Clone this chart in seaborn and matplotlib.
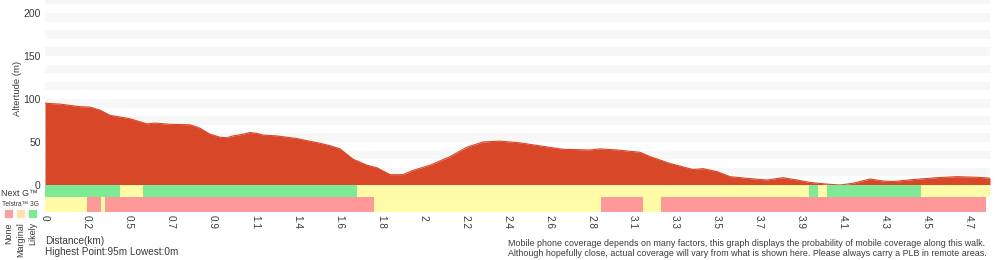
import numpy as np
import pandas as pd
import matplotlib
matplotlib.use("Agg")
import matplotlib.pyplot as plt
import seaborn as sns

# ---------------- data ----------------
tick_labels = ["0", "0.2", "0.5", "0.7", "0.9", "1.1", "1.4", "1.6", "1.8", "2",
               "2.2", "2.4", "2.6", "2.8", "3.1", "3.3", "3.5", "3.7", "3.9",
               "4.1", "4.3", "4.5", "4.7"]

# position along the walk (in tick-index units) and altitude (m)
profile_pos = [0.0, 0.357, 0.833, 1.071, 1.31, 1.548, 2.024, 2.429, 2.619, 2.976,
               3.452, 3.69, 3.929, 4.167, 4.333, 4.476, 4.714, 4.881, 5.048, 5.19,
               5.524, 6.0, 6.238, 6.548, 6.786, 7.024, 7.333, 7.667, 7.905, 8.214,
               8.524, 8.762, 9.167, 9.643, 10.048, 10.429, 10.833, 11.31, 11.714,
               12.333, 12.976, 13.214, 13.619, 14.167, 14.405, 14.643, 14.881,
               15.429, 15.667, 16.0, 16.31, 16.786, 17.19, 17.571, 17.905, 18.214,
               18.619, 18.929, 19.238, 19.643, 19.952, 20.19, 20.595, 21.238,
               21.714, 22.19, 22.5]
profile_alt = [95, 94, 91, 90.5, 87, 81, 77, 71, 72, 70.5,
               70, 66, 59, 55.5, 55, 57, 59, 61, 60, 58,
               57, 54, 51.5, 48.5, 45.7, 42, 30, 23, 20, 12,
               12, 17, 23, 33, 44, 50, 51, 49, 46,
               41.5, 40.7, 42, 40.7, 38, 33, 29, 25,
               18, 19, 15.5, 9.7, 7.4, 5.8, 8.5, 5.8, 3,
               1, 0, 2, 7, 4.6, 4, 6, 8.5,
               9.7, 9, 8]

nextg_edges = [0, 1.786, 2.333, 7.429, 18.18, 18.405, 18.619, 20.857, 22.5]
nextg_levels = ["Likely", "Marginal", "Likely", "Marginal", "Likely", "Marginal", "Likely", "Marginal"]
g3_edges = [0, 1.0, 1.333, 1.429, 7.833, 13.238, 14.238, 14.667, 22.405]
g3_levels = ["Marginal", "None", "Marginal", "None", "Marginal", "None", "Marginal", "None"]

legend_levels = ["None", "Marginal", "Likely"]

# ---------------- style ----------------
sns.set_theme(style="white")
plt.rcParams["font.family"] = ["Liberation Sans", "DejaVu Sans"]

RED = "#d94729"
COV = {"None": "#ff9999", "Marginal": "#fffca8", "Likely": "#7eea96"}
LEG = {"None": "#ff9e9e", "Marginal": "#ffe3a8", "Likely": "#7eea96"}
TXT = "#3a3a3a"

W, H = 1000, 260
fig = plt.figure(figsize=(10, 2.6), dpi=100)

def fx(px):
    return px / W

def fy(py):
    return 1 - py / H

# main elevation axes
ax = fig.add_axes([fx(45), fy(185), fx(990) - fx(45), fy(0) - fy(185)])
ax.set_xlim(0, 22.5)
ax.set_ylim(0, 215)
for lo in range(10, 220, 20):
    ax.axhspan(lo, lo + 10, color="#f7f7f7", lw=0, zorder=0)

df = pd.DataFrame({"pos": profile_pos, "alt": profile_alt})
ax.fill_between(df["pos"], df["alt"], 0, color=RED, lw=0, zorder=2)
sns.lineplot(data=df, x="pos", y="alt", ax=ax, color=RED, lw=0.8, zorder=3)
ax.set_xlabel("")
ax.set_ylabel("")
ax.set_xticks([])
ax.set_yticks([0, 50, 100, 150, 200])
ax.set_yticklabels(["0", "50", "100", "150", "200"])
ax.tick_params(axis="y", length=0, pad=3, labelsize=7.5, labelcolor=TXT)
for s in ax.spines.values():
    s.set_visible(False)

# coverage axes
axc = fig.add_axes([fx(45), fy(212), fx(990) - fx(45), fy(185) - fy(212)])
axc.set_xlim(0, 22.5)
axc.set_ylim(27, 0)
for edges, levels, yc, hh in [(nextg_edges, nextg_levels, 6, 12), (g3_edges, g3_levels, 19.5, 15)]:
    left = np.array(edges[:-1])
    width = np.diff(edges)
    axc.barh([yc] * len(levels), width, left=left, height=hh,
             color=[COV[l] for l in levels], lw=0)
axc.set_yticks([])
axc.set_xticks(range(len(tick_labels)))
axc.set_xticklabels(tick_labels, rotation=270)
axc.tick_params(axis="x", length=0, pad=2.5, labelsize=7.2, labelcolor=TXT)
for lab in axc.get_xticklabels():
    lab.set_verticalalignment("top")
    lab.set_horizontalalignment("center")
for s in axc.spines.values():
    s.set_visible(False)

# texts
fig.text(fx(17), fy(88), "Altertude (m)", rotation=90, ha="center", va="center",
         fontsize=6.8, color=TXT)
fig.text(fx(38), fy(194), "Next G™", ha="right", va="center", fontsize=6.4, color=TXT)
fig.text(fx(20), fy(204), "Telstra™ 3G", ha="center", va="center", fontsize=4.8, color=TXT)
for i, lev in enumerate(legend_levels):
    cx = 8.5 + i * 12
    fig.patches.append(plt.Rectangle((fx(cx - 4.5), fy(218)), fx(9), fy(209) - fy(218),
                                     transform=fig.transFigure, facecolor=LEG[lev],
                                     edgecolor="#ffffff", lw=0.6))
    fig.text(fx(cx), fy(222), lev, rotation=90, ha="center", va="top",
             fontsize=6.5, color=TXT)

fig.text(fx(45), fy(241), "Distance(km)", ha="left", va="center", fontsize=7.2, color=TXT)
fig.text(fx(45), fy(252), "Highest Point:95m Lowest:0m", ha="left", va="center",
         fontsize=7.2, color=TXT)
fig.text(fx(508), fy(243),
         "Mobile phone coverage depends on many factors, this graph displays the probability of mobile coverage along this walk.",
         ha="left", va="center", fontsize=6.4, color=TXT)
fig.text(fx(508), fy(253),
         "Although hopefully close, actual coverage will vary from what is shown here. Please always carry a PLB in remote areas.",
         ha="left", va="center", fontsize=6.4, color=TXT)

fig.savefig("out.png", dpi=100)
